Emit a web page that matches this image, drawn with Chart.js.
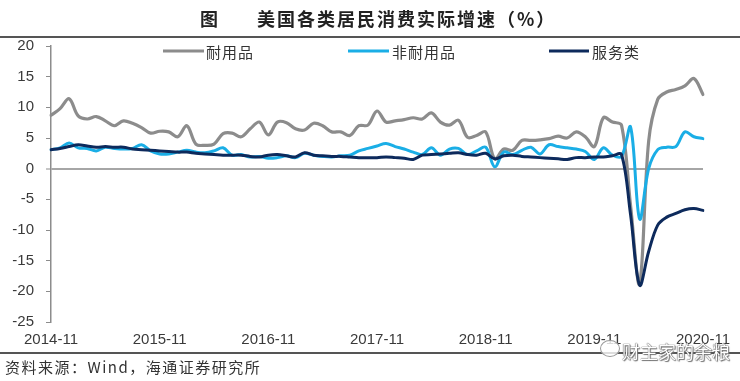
<!DOCTYPE html>
<html>
<head>
<meta charset="utf-8">
<script src="https://cdn.jsdelivr.net/npm/chart.js@4/dist/chart.umd.min.js"></script>
<style>
  html, body { margin:0; padding:0; background:#fff; }
  #wrap { position:relative; width:740px; height:381px; overflow:hidden; background:#fff; }
  #c { position:absolute; left:0; top:0; }
  .title { position:absolute; top:5px; left:0; width:740px; height:26px; font-family:"Noto Sans CJK SC"; font-weight:bold; font-size:18px; color:#222; letter-spacing:2px; }
  .rule { position:absolute; left:0; width:740px; height:2px; background:#555; }
  .src { position:absolute; left:5px; top:356px; font-family:"Noto Sans CJK SC","Liberation Sans"; font-size:15px; color:#333; letter-spacing:1.5px; }
  .wm { position:absolute; left:622px; top:338px; font-family:"Noto Sans CJK SC"; font-size:18px; color:#fff; text-shadow:0 0 1px #555, 0 0 1px #555, 1px 1px 1px #777; }
  .wmicon { position:absolute; left:600px; top:340px; width:18px; height:15px; border:1.5px solid #999; border-radius:50%; background:rgba(255,255,255,0.8); }
</style>
</head>
<body>
<div id="wrap">
  <canvas id="c" width="740" height="381"></canvas>
  <div class="title"><span style="position:absolute;left:200px;top:0">图</span><span style="position:absolute;left:257px;top:0">美国各类居民消费实际增速（%）</span></div>
  <div class="rule" style="top:36px"></div>
  <div class="rule" style="top:352px"></div>
  <div class="src">资料来源：Wind，海通证券研究所</div>
  <div class="wmicon"></div>
  <div class="wm">财主家的余粮</div>
</div>
<script>
const months = [
 '2014-11','2014-12',
 '2015-01','2015-02','2015-03','2015-04','2015-05','2015-06','2015-07','2015-08','2015-09','2015-10','2015-11','2015-12',
 '2016-01','2016-02','2016-03','2016-04','2016-05','2016-06','2016-07','2016-08','2016-09','2016-10','2016-11','2016-12',
 '2017-01','2017-02','2017-03','2017-04','2017-05','2017-06','2017-07','2017-08','2017-09','2017-10','2017-11','2017-12',
 '2018-01','2018-02','2018-03','2018-04','2018-05','2018-06','2018-07','2018-08','2018-09','2018-10','2018-11','2018-12',
 '2019-01','2019-02','2019-03','2019-04','2019-05','2019-06','2019-07','2019-08','2019-09','2019-10','2019-11','2019-12',
 '2020-01','2020-02','2020-03','2020-04','2020-05','2020-06','2020-07','2020-08','2020-09','2020-10','2020-11'
];
const tickLabels = ['2014-11','2015-11','2016-11','2017-11','2018-11','2019-11','2020-11'];

const durables = [
 8.7, 9.8, 11.4, 8.6, 8.1, 8.5, 7.8, 7.0, 7.8, 7.4, 6.7, 5.8,
 6.1, 6.0, 5.2, 7.0, 4.0, 3.8, 4.0, 5.7, 5.8, 5.2, 6.5, 7.6,
 5.5, 7.6, 7.5, 6.5, 6.3, 7.4, 7.0, 6.0, 6.0, 5.4, 7.0, 7.1,
 9.4, 7.6, 7.8, 8.0, 8.3, 8.1, 9.1, 7.6, 7.1, 7.9, 5.1, 5.4,
 6.0, 1.6, 3.2, 3.0, 4.6, 4.6, 4.7, 4.9, 5.3, 5.0, 6.0, 5.2,
 3.6, 8.3, 7.6, 7.1, -6.0, -18.8, 4.5, 11.3, 12.5, 12.9, 13.5, 14.7, 12.1
];
const nondurables = [
 3.1, 3.4, 4.2, 3.4, 3.3, 2.9, 3.5, 3.3, 3.2, 3.3, 3.9, 2.9,
 2.4, 2.4, 2.7, 3.0, 2.7, 2.6, 2.9, 3.4, 2.2, 2.3, 1.9, 2.0,
 1.7, 1.8, 2.1, 1.8, 2.5, 2.2, 2.0, 1.9, 2.1, 2.2, 2.9, 3.3,
 3.7, 4.1, 3.6, 3.2, 2.7, 2.3, 3.4, 2.2, 3.2, 3.3, 2.3, 2.9,
 3.5, 0.3, 2.7, 2.3, 3.0, 3.5, 2.4, 3.9, 3.6, 3.4, 3.2, 2.8,
 1.5, 3.4, 2.2, 2.0, 6.8, -8.2, 0.0, 3.1, 3.5, 3.6, 6.0, 5.2, 4.9
];
const services = [
 3.1, 3.3, 3.6, 3.9, 3.7, 3.5, 3.6, 3.5, 3.5, 3.2, 3.1, 3.0,
 2.9, 2.8, 2.7, 2.7, 2.5, 2.4, 2.3, 2.2, 2.2, 2.2, 2.0, 1.9,
 2.2, 2.3, 2.1, 1.9, 2.6, 2.2, 2.1, 2.0, 2.0, 1.9, 1.8, 1.8,
 1.8, 1.9, 1.8, 1.7, 1.5, 2.2, 2.3, 2.4, 2.5, 2.6, 2.3, 2.2,
 2.5, 1.6, 2.1, 2.2, 2.0, 1.9, 1.8, 1.7, 1.6, 1.5, 1.8, 1.8,
 1.9, 1.9, 2.1, 2.3, -7.5, -19.0, -13.5, -9.2, -7.9, -7.3, -6.7, -6.5, -6.8
];
const seriesNames = ['耐用品', '非耐用品', '服务类'];
const colors = ['#8c8c8c', '#1aaee6', '#0d2a5c'];

const legendPlugin = {
  id: 'inlineLegend',
  afterDraw(chart) {
    const ctx = chart.ctx;
    const items = [
      {x1:163, x2:204, tx:206},
      {x1:348, x2:389, tx:392},
      {x1:549, x2:589, tx:592}
    ];
    const y = 51;
    ctx.save();
    ctx.font = '15px "Noto Sans CJK SC"';
    try { ctx.letterSpacing = '1px'; } catch (e) {}
    ctx.textBaseline = 'middle';
    items.forEach((it, i) => {
      const ds = chart.data.datasets[i];
      ctx.strokeStyle = ds.borderColor;
      ctx.lineWidth = 3;
      ctx.beginPath(); ctx.moveTo(it.x1, y); ctx.lineTo(it.x2, y); ctx.stroke();
      ctx.fillStyle = '#333';
      ctx.fillText(ds.label, it.tx, y + 1);
    });
    ctx.restore();
  }
};

new Chart(document.getElementById('c'), {
  type: 'line',
  data: {
    labels: months,
    datasets: [
      { label: seriesNames[0], data: durables, borderColor: colors[0], borderWidth: 3.2, order: 3 },
      { label: seriesNames[1], data: nondurables, borderColor: colors[1], borderWidth: 3, order: 2 },
      { label: seriesNames[2], data: services, borderColor: colors[2], borderWidth: 3, order: 1 }
    ]
  },
  options: {
    responsive: false,
    animation: false,
    devicePixelRatio: 1,
    layout: { padding: { top: 46, right: 37, bottom: 0, left: 0 } },
    elements: { point: { radius: 0 }, line: { tension: 0.35, borderCapStyle: 'round', borderJoinStyle: 'round' } },
    plugins: { legend: { display: false }, tooltip: { enabled: false } },
    scales: {
      x: {
        type: 'category',
        offset: false,
        afterFit(s) { s.height = 59; },
        grid: { display: false, drawTicks: false },
        border: { display: false },
        ticks: {
          autoSkip: false, maxRotation: 0, minRotation: 0, padding: 9,
          color: '#3a3a3a', font: { family: 'Liberation Sans', size: 15 },
          callback(v, i) { const l = months[i]; return tickLabels.includes(l) ? l : ''; }
        }
      },
      y: {
        min: -25, max: 20,
        afterFit(s) { s.width = 51; },
        ticks: { stepSize: 5, padding: 12, color: '#3a3a3a', font: { family: 'Liberation Sans', size: 15 } },
        grid: {
          drawOnChartArea: true,
          color: (c) => (c.tick && c.tick.value === 0) ? '#a6a6a6' : 'rgba(0,0,0,0)',
          lineWidth: (c) => (c.tick && c.tick.value === 0) ? 2 : 1,
          tickColor: '#8c8c8c', tickLength: 5, tickWidth: 1
        },
        border: { display: true, color: '#8c8c8c', width: 1.5 }
      }
    }
  },
  plugins: [legendPlugin]
});
</script>
</body>
</html>
